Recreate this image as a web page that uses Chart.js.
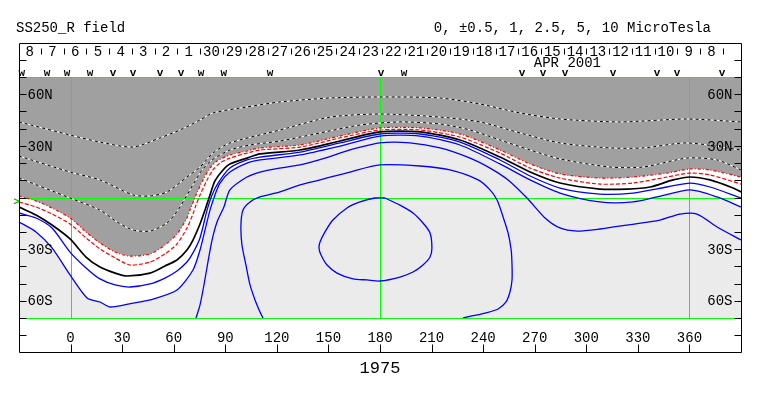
<!DOCTYPE html>
<html><head><meta charset="utf-8">
<script src="https://cdn.jsdelivr.net/npm/chart.js@4.4.1/dist/chart.umd.min.js"></script>
<style>html,body{margin:0;padding:0;background:#fff}canvas{display:block}</style>
</head><body>
<canvas id="c" width="763" height="396"></canvas>
<script>
// ---------- data (longitude, latitude in degrees) ----------
const lonRange = [-30, 390];
const latRange = [-70, 70];
const frameLatRange = [-90, 90];
const lonTicks = [0, 30, 60, 90, 120, 150, 180, 210, 240, 270, 300, 330, 360];
const latTicks = [-80, -70, -60, -50, -40, -30, -20, -10, 0, 10, 20, 30, 40, 50, 60, 70, 80];
const latLabelValues = [60, 30, -30, -60];
const latLabels = ['60N', '30N', '30S', '60S'];
const gridLons = [0, 180, 360];
const gridLats = [-70, 0, 70];
const dayLabels = ['8','7','6','5','4','3','2','1','30','29','28','27','26','25','24','23','22','21','20','19','18','17','16','15','14','13','12','11','10','9','8'];
const dayEdgeStartLon = -30.4;
const dayStepLon = 13.22;
const monthLabel = 'APR 2001';
const monthLabelLon = 289;
const markLons = [-28.3, -13.7, -2.1, 11.3, 24.7, 36.3, 52.0, 64.2, 75.9, 89.2, 116.0, 180.6, 194.0, 262.6, 274.8, 287.6, 315.5, 341.1, 352.8, 379.0];
const markTypes = ['w','w','w','w','v','v','v','v','w','w','w','v','w','v','v','v','v','v','v','v'];
const titleLeft = 'SS250_R field';
const titleRight = '0, \u00B10.5, 1, 2.5, 5, 10 MicroTesla';
const rotationLabel = '1975';

const negLine1 = [[-30,43.9],[-0.3,36.3],[17.1,32.2],[36.3,29.3],[52.0,34.6],[63.6,39.2],[75.3,45.0],[82.8,49.1],[102.6,52.6],[121.8,55.5],[150.9,57.8],[180.0,58.4],[214.9,57.8],[238.2,54.3],[261.5,49.1],[284.7,45.6],[319.6,43.9],[358.6,45.6],[390,43.9]];
const negLine2 = [[-30,24.1],[-0.3,14.8],[17.1,10.2],[36.3,1.5],[46.2,0.9],[56.1,3.2],[67.7,11.9],[75.3,17.7],[82.8,25.8],[92.7,31.7],[121.8,39.2],[150.9,46.7],[180.0,48.5],[214.9,46.7],[238.2,43.9],[261.5,37.5],[284.7,31.7],[313.8,28.8],[333.0,28.8],[358.6,31.7],[390,27.6]];
const negLine3 = [[-30,11.3],[-0.3,-0.3],[17.1,-7.3],[27.0,-14.2],[36.3,-18.9],[46.2,-19.5],[56.1,-14.8],[62.5,-7.3],[67.1,0.3],[71.8,8.4],[76.5,16.0],[82.3,21.8],[92.7,27.6],[104.4,30.5],[121.8,32.8],[145.1,37.5],[168.4,42.1],[191.6,43.9],[214.9,42.7],[232.4,39.2],[249.8,33.4],[267.3,27.6],[284.7,22.4],[313.8,17.7],[333.0,17.7],[358.6,22.9],[376.1,21.8],[390,16.0]];
const redOuter = [[-30,0.9],[-20.1,-2.0],[-10.8,-6.1],[-0.3,-11.9],[9.0,-20.0],[17.1,-26.4],[25.9,-31.7],[34.6,-34.0],[46.2,-32.8],[54.9,-27.6],[61.9,-21.2],[67.7,-11.9],[69.5,-7.3],[73.0,1.5],[77.0,10.2],[81.1,17.1],[85.2,21.2],[92.7,24.7],[102.6,27.0],[110.2,28.8],[133.5,30.5],[156.7,35.7],[180.0,40.4],[203.3,40.4],[226.5,36.9],[249.8,27.6],[267.3,19.5],[284.7,13.7],[307.9,11.3],[327.2,11.9],[347.0,14.2],[360.4,16.6],[372.0,16.0],[390,11.9]];
const redInner = [[-30,-2.6],[-20.1,-5.5],[-10.8,-9.6],[-0.3,-15.4],[9.0,-23.5],[17.1,-29.9],[25.9,-35.1],[34.6,-39.2],[46.2,-37.5],[54.9,-32.8],[61.9,-27.0],[67.7,-17.7],[71.2,-9.6],[73.0,-4.4],[75.3,1.5],[79.4,10.2],[82.8,16.0],[86.9,20.0],[92.7,22.9],[102.6,25.8],[110.2,27.6],[133.5,29.3],[156.7,34.6],[180.0,39.2],[203.3,39.2],[226.5,35.1],[249.8,25.8],[267.3,17.1],[284.7,11.3],[307.9,7.8],[327.2,8.4],[347.0,11.9],[360.4,14.2],[372.0,13.1],[390,7.8]];
const neutralLine = [[-30,-5.5],[-20.1,-10.2],[-10.8,-16.0],[-0.3,-24.1],[9.0,-34.6],[17.1,-40.4],[25.9,-43.9],[32.8,-45.6],[46.2,-43.9],[54.9,-39.8],[61.9,-36.3],[67.7,-30.5],[71.2,-24.7],[75.3,-15.4],[78.2,-7.3],[81.1,1.5],[84.0,9.6],[88.7,16.0],[92.7,19.5],[102.6,22.9],[110.2,25.3],[133.5,27.6],[156.7,32.8],[180.0,38.1],[203.3,38.1],[226.5,33.4],[249.8,23.5],[267.3,14.8],[284.7,8.4],[307.9,4.9],[323.7,4.9],[337.1,6.1],[350.5,10.2],[360.4,11.9],[372.0,10.2],[385.4,5.5],[390,3.2]];
const pos05 = [[-30,-9.0],[-20.1,-11.9],[-10.8,-17.7],[-0.3,-31.7],[9.0,-40.9],[17.1,-47.3],[25.9,-50.8],[34.6,-52.0],[46.2,-50.2],[54.9,-46.8],[61.9,-42.7],[67.7,-37.5],[71.2,-32.2],[75.3,-23.5],[79.4,-7.3],[82.3,1.5],[85.8,8.4],[92.7,17.1],[102.6,21.8],[110.2,23.5],[133.5,26.4],[156.7,31.7],[180.0,36.9],[203.3,36.9],[226.5,32.2],[249.8,21.8],[267.3,12.5],[284.7,5.5],[307.9,2.0],[327.2,2.6],[347.0,6.1],[360.4,8.4],[372.0,6.1],[390,-0.3]];
const pos1 = [[-30,-14.2],[-20.1,-20.0],[-10.8,-29.3],[-0.3,-45.0],[9.6,-58.4],[17.1,-60.7],[22.9,-63.6],[36.3,-61.3],[46.2,-59.5],[61.9,-53.7],[71.2,-42.1],[75.3,-30.5],[78.2,-18.9],[81.1,-7.3],[84.0,1.5],[86.9,8.4],[92.7,14.8],[102.6,20.0],[110.2,21.8],[133.5,24.7],[156.7,29.9],[180.0,35.7],[203.3,35.7],[226.5,30.5],[249.8,19.5],[267.3,10.2],[284.7,2.6],[307.9,-2.6],[327.2,-2.6],[341.1,0.3],[360.4,4.4],[376.1,0.3],[390,-5.5]];
const pos25 = [[73.0,-70],[75.3,-62.4],[77.6,-50.8],[79.9,-37.5],[82.3,-24.7],[85.2,-14.2],[89.2,-5.5],[92.7,4.4],[102.6,11.9],[110.2,14.8],[121.8,17.1],[133.5,18.9],[148.0,22.9],[162.5,27.6],[180.0,31.7],[197.4,31.7],[214.9,28.8],[232.4,22.9],[244.0,17.1],[254.5,10.2],[265.5,-0.3],[276.0,-11.9],[284.7,-17.7],[294.6,-19.5],[307.9,-18.3],[323.7,-16.0],[342.9,-13.1],[354.5,-9.6],[364.4,-9.6],[376.1,-17.1],[390,-24.7]];
const pos5 = [[111.9,-70],[110.2,-66.5],[107.3,-59.5],[104.4,-50.8],[102.0,-39.2],[99.7,-27.6],[99.1,-16.0],[100.3,-7.3],[104.4,-2.6],[110.2,0.3],[121.8,3.2],[133.5,7.3],[145.1,10.2],[162.5,14.8],[180.0,18.9],[203.3,18.3],[220.7,16.0],[237.1,10.2],[244.0,4.4],[248.1,-1.5],[251.6,-11.3],[254.5,-20.6],[256.3,-30.5],[256.8,-39.2],[256.8,-47.9],[255.6,-54.9],[253.3,-60.7],[248.7,-64.8],[241.2,-67.1],[233.6,-68.8],[228.3,-70]];
const pos10 = [[182.9,-0.3],[191.6,-4.4],[199.2,-9.0],[205.0,-14.8],[209.1,-20.6],[210.2,-29.3],[209.1,-34.6],[205.0,-39.2],[199.2,-43.3],[191.6,-46.2],[180.0,-48.5],[172.5,-47.9],[164.3,-47.3],[155.0,-43.9],[149.2,-39.2],[145.7,-33.4],[144.5,-29.3],[145.1,-25.9],[148.0,-20.0],[152.6,-13.1],[160.8,-6.1],[168.4,-2.6],[177.1,-0.3],[182.9,-0.3]];

// ---------- chart ----------
const FONT = '"Liberation Mono", "DejaVu Sans Mono", monospace';
const pts = a => a.map(p => ({x: p[0], y: p[1]}));
const T = 0.25;
const base = {pointRadius: 0, pointHoverRadius: 0, tension: T, fill: false};

const datasets = [];
// fills (index 0: white band, index 1: negative polarity grey)
datasets.push(Object.assign({}, base, {data: pts(pos1), borderColor: 'rgba(0,0,0,0)', borderWidth: 1, fill: 'end', backgroundColor: '#FFFFFF', order: 10}));
datasets.push(Object.assign({}, base, {data: pts(redOuter), borderColor: 'rgba(0,0,0,0)', borderWidth: 1, fill: 'end', backgroundColor: '#A0A0A0', order: 9}));
// negative contours (black/white dashed)
[negLine1, negLine2, negLine3].forEach(a => {
  datasets.push(Object.assign({}, base, {data: pts(a), borderColor: '#FFFFFF', borderWidth: 1, order: 3}));
  datasets.push(Object.assign({}, base, {data: pts(a), borderColor: '#000000', borderWidth: 1, borderDash: [3, 3], order: 2}));
});
datasets.push(Object.assign({}, base, {data: pts(redOuter), borderColor: '#FF0000', borderWidth: 1.2, borderDash: [3, 2, 1, 2], order: 1}));
datasets.push(Object.assign({}, base, {data: pts(redInner), borderColor: '#FF0000', borderWidth: 1.2, borderDash: [4, 2], order: 1}));
datasets.push(Object.assign({}, base, {data: pts(neutralLine), borderColor: '#000000', borderWidth: 1.7, order: 1}));
[pos05, pos1, pos25, pos5, pos10].forEach(a => datasets.push(Object.assign({}, base, {data: pts(a), borderColor: '#0000FF', borderWidth: 1.3, order: 1})));

const crisp = v => Math.round(v) + 0.5;

const framePlugin = {
  id: 'frame',
  beforeDraw(chart) {
    const {ctx, chartArea: a} = chart;
    ctx.save();
    ctx.fillStyle = '#FFFFFF';
    ctx.fillRect(0, 0, chart.width, chart.height);
    ctx.fillStyle = '#EBEBEB';
    ctx.fillRect(a.left, a.top, a.right - a.left, a.bottom - a.top);
    ctx.restore();
  },
  afterDatasetDraw(chart, args) {
    // green reference grid, drawn right after the grey fill, below the contours
    if (args.index !== 1) return;
    const ctx = chart.ctx;
    const xs = chart.scales.x, ys = chart.scales.y;
    ctx.save();
    ctx.strokeStyle = '#00FF00';
    ctx.lineWidth = 1;
    ctx.setLineDash([]);
    ctx.beginPath();
    gridLons.forEach(l => {
      const x = crisp(xs.getPixelForValue(l));
      ctx.moveTo(x, crisp(ys.getPixelForValue(latRange[1]))); ctx.lineTo(x, crisp(ys.getPixelForValue(latRange[0])));
    });
    gridLats.forEach(l => {
      const y = crisp(ys.getPixelForValue(l));
      ctx.moveTo(crisp(xs.getPixelForValue(lonRange[0])), y); ctx.lineTo(crisp(xs.getPixelForValue(lonRange[1])), y);
    });
    ctx.stroke();
    ctx.restore();
  },
  afterDraw(chart) {
    const ctx = chart.ctx;
    const xs = chart.scales.x, ys = chart.scales.y;
    const px = v => xs.getPixelForValue(v);
    const py = v => ys.getPixelForValue(v);
    const L = crisp(px(lonRange[0])), R = crisp(px(lonRange[1]));
    const TOP = crisp(py(frameLatRange[1])), BOT = crisp(py(frameLatRange[0]));
    ctx.save();
    ctx.strokeStyle = '#000';
    ctx.lineWidth = 1;
    ctx.beginPath();
    ctx.moveTo(L, TOP); ctx.lineTo(R, TOP); ctx.lineTo(R, BOT); ctx.lineTo(L, BOT); ctx.closePath();
    latTicks.forEach(t => {
      const y = crisp(py(t));
      ctx.moveTo(L, y); ctx.lineTo(L + 7, y);
      ctx.moveTo(R, y); ctx.lineTo(R - 7, y);
    });
    lonTicks.forEach(t => {
      const x = crisp(px(t));
      ctx.moveTo(x, BOT); ctx.lineTo(x, BOT - 8);
    });
    for (let k = 1; k <= dayLabels.length; k++) {
      const x = crisp(px(dayEdgeStartLon + k * dayStepLon));
      ctx.moveTo(x, TOP + 5); ctx.lineTo(x, TOP + 11);
    }
    ctx.stroke();

    ctx.fillStyle = '#000';
    ctx.font = '14px ' + FONT;
    ctx.textBaseline = 'alphabetic';
    ctx.textAlign = 'left';
    ctx.fillText(titleLeft, 16, 32);
    ctx.textAlign = 'right';
    ctx.fillText(titleRight, 711, 32);

    ctx.textAlign = 'center';
    dayLabels.forEach((d, k) => {
      ctx.fillText(d, px(dayEdgeStartLon + (k + 0.5) * dayStepLon), TOP + 12);
    });
    ctx.fillText(monthLabel, px(monthLabelLon), TOP + 23);

    ctx.textBaseline = 'middle';
    latLabelValues.forEach((v, i) => {
      ctx.textAlign = 'left';
      ctx.fillText(latLabels[i], L + 8, py(v) + 1);
      ctx.textAlign = 'right';
      ctx.fillText(latLabels[i], R - 9, py(v) + 1);
    });
    ctx.textAlign = 'center';
    lonTicks.forEach(t => ctx.fillText(String(t), px(t), py(-80) + 3));

    ctx.font = 'bold 11px ' + FONT;
    ctx.textBaseline = 'alphabetic';
    markLons.forEach((l, i) => ctx.fillText(markTypes[i], px(l), py(latRange[1]) - 1));

    ctx.fillStyle = '#00C000';
    ctx.font = 'bold 10px ' + FONT;
    ctx.textAlign = 'right';
    ctx.textBaseline = 'middle';
    ctx.fillText('>', L, py(-3));

    ctx.fillStyle = '#000';
    ctx.font = '17px ' + FONT;
    ctx.textAlign = 'center';
    ctx.textBaseline = 'alphabetic';
    ctx.fillText(rotationLabel, px((lonRange[0] + lonRange[1]) / 2), 373);
    ctx.restore();
  }
};

new Chart(document.getElementById('c'), {
  type: 'line',
  data: {datasets},
  options: {
    responsive: false,
    devicePixelRatio: 1,
    animation: false,
    events: [],
    layout: {padding: {left: 19, right: 22, top: 77, bottom: 78}},
    scales: {
      x: {type: 'linear', min: lonRange[0], max: lonRange[1], display: false},
      y: {type: 'linear', min: latRange[0], max: latRange[1], display: false}
    },
    plugins: {legend: {display: false}, tooltip: {enabled: false}}
  },
  plugins: [framePlugin]
});
</script>
</body></html>
